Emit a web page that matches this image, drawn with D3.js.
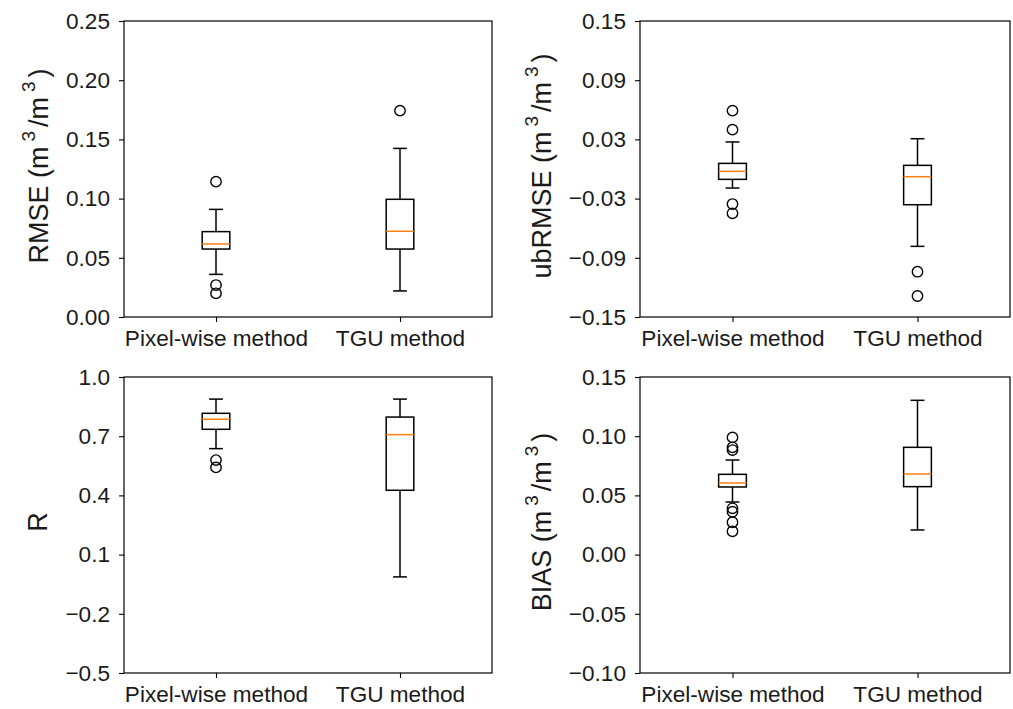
<!DOCTYPE html>
<html>
<head>
<meta charset="utf-8">
<script src="https://cdn.jsdelivr.net/npm/d3@7"></script>
<style>
  html, body { margin: 0; padding: 0; background: #fff; }
  svg { display: block; }
  text { font-family: "Liberation Sans", Arial, sans-serif; fill: #1a1a1a; }
</style>
</head>
<body>
<svg id="chart" width="1013" height="709"></svg>
<script>
// Methods compared in every panel
const methods = ["Pixel-wise method", "TGU method"];

// Box statistics per method: [lower whisker, Q1, median, Q3, upper whisker]
const rmseBoxes = [[0.036, 0.0574, 0.0617, 0.0721, 0.0909], [0.022, 0.0574, 0.0724, 0.0994, 0.1424]];
const rmseOutliers = [[0.1143, 0.027, 0.020], [0.1743]];

const ubrmseBoxes = [[-0.0193, -0.0105, -0.0024, 0.0057, 0.0274], [-0.0784, -0.0362, -0.0078, 0.0037, 0.0307]];
const ubrmseOutliers = [[0.0591, 0.0399, -0.0355, -0.0449], [-0.1041, -0.1287]];

const rBoxes = [[0.637, 0.735, 0.786, 0.816, 0.888], [-0.013, 0.426, 0.708, 0.797, 0.888]];
const rOutliers = [[0.579, 0.542], []];

const biasBoxes = [[0.0444, 0.0571, 0.0605, 0.0678, 0.0799], [0.0208, 0.0574, 0.0681, 0.0906, 0.1303]];
const biasOutliers = [[0.099, 0.0906, 0.0883, 0.0391, 0.0362, 0.0273, 0.0197], []];

// Y tick values for each panel
const rmseTicks = [0.00, 0.05, 0.10, 0.15, 0.20, 0.25];
const ubrmseTicks = [-0.15, -0.09, -0.03, 0.03, 0.09, 0.15];
const rTicks = [-0.5, -0.2, 0.1, 0.4, 0.7, 1.0];
const biasTicks = [-0.10, -0.05, 0.00, 0.05, 0.10, 0.15];

const svg = d3.select("#chart");

const panels = [
  { boxes: rmseBoxes, outliers: rmseOutliers, ticks: rmseTicks, fmt: ".2f",
    label: "RMSE", unit: true, x0: 124, x1: 492, y0: 21, y1: 317 },
  { boxes: ubrmseBoxes, outliers: ubrmseOutliers, ticks: ubrmseTicks, fmt: ".2f",
    label: "ubRMSE", unit: true, x0: 640, x1: 1010, y0: 21, y1: 317 },
  { boxes: rBoxes, outliers: rOutliers, ticks: rTicks, fmt: ".1f",
    label: "R", unit: false, x0: 124, x1: 492, y0: 377, y1: 673 },
  { boxes: biasBoxes, outliers: biasOutliers, ticks: biasTicks, fmt: ".2f",
    label: "BIAS", unit: true, x0: 640, x1: 1010, y0: 377, y1: 673 }
];

const ink = "#000";
const medianColor = "#ff7f0e";
const fontSize = 22.6;
const labelSize = 27;

panels.forEach(p => {
  const g = svg.append("g");
  const x = d3.scaleLinear().domain([0.5, 2.5]).range([p.x0, p.x1]);
  const y = d3.scaleLinear().domain([p.ticks[0], p.ticks[p.ticks.length - 1]]).range([p.y1, p.y0]);
  const boxW = x(1.15) - x(1);
  const capW = boxW / 2;
  const fmt = d3.format(p.fmt);

  // boxes, whiskers, medians and fliers
  p.boxes.forEach((b, i) => {
    const cx = x(i + 1);
    const [lo, q1, med, q3, hi] = b;
    const bg = g.append("g").attr("fill", "none").attr("stroke", ink).attr("stroke-width", 1.5);
    bg.append("line").attr("x1", cx).attr("x2", cx).attr("y1", y(q1)).attr("y2", y(lo));
    bg.append("line").attr("x1", cx).attr("x2", cx).attr("y1", y(q3)).attr("y2", y(hi));
    bg.append("line").attr("x1", cx - capW / 2).attr("x2", cx + capW / 2).attr("y1", y(lo)).attr("y2", y(lo));
    bg.append("line").attr("x1", cx - capW / 2).attr("x2", cx + capW / 2).attr("y1", y(hi)).attr("y2", y(hi));
    bg.append("rect").attr("x", cx - boxW / 2).attr("width", boxW)
      .attr("y", y(q3)).attr("height", y(q1) - y(q3));
    g.append("line").attr("x1", cx - boxW / 2).attr("x2", cx + boxW / 2)
      .attr("y1", y(med)).attr("y2", y(med))
      .attr("stroke", medianColor).attr("stroke-width", 1.5);
    g.selectAll(null).data(p.outliers[i]).enter().append("circle")
      .attr("cx", cx).attr("cy", d => y(d)).attr("r", 5.2)
      .attr("fill", "none").attr("stroke", ink).attr("stroke-width", 1.4);
  });

  // frame
  g.append("rect").attr("x", p.x0).attr("y", p.y0)
    .attr("width", p.x1 - p.x0).attr("height", p.y1 - p.y0)
    .attr("fill", "none").attr("stroke", ink).attr("stroke-width", 1.2);

  // y axis
  const yAxis = d3.axisLeft(y).tickValues(p.ticks).tickSize(5).tickPadding(9)
    .tickFormat(d => fmt(d).replace("-", "\u2212"));
  const ya = g.append("g").attr("transform", `translate(${p.x0},0)`).call(yAxis);
  ya.select(".domain").remove();
  ya.selectAll("line").attr("stroke", ink).attr("stroke-width", 1.1);
  ya.selectAll("text").attr("font-size", fontSize).attr("fill", "#1a1a1a")
    .attr("font-family", "Liberation Sans, Arial, sans-serif");

  // x axis
  const xAxis = d3.axisBottom(x).tickValues([1, 2]).tickSize(5).tickPadding(8)
    .tickFormat((d, i) => methods[i]);
  const xa = g.append("g").attr("transform", `translate(0,${p.y1})`).call(xAxis);
  xa.select(".domain").remove();
  xa.selectAll("line").attr("stroke", ink).attr("stroke-width", 1.1);
  xa.selectAll("text").attr("font-size", fontSize).attr("fill", "#1a1a1a")
    .attr("font-family", "Liberation Sans, Arial, sans-serif");

  // y label, placed just left of the widest tick label
  let maxW = 0;
  ya.selectAll("text").each(function () { maxW = Math.max(maxW, this.getComputedTextLength()); });
  const lx = p.x0 - 5 - 9 - maxW - 18;
  const cy = (p.y0 + p.y1) / 2 - 3;
  const t = g.append("text")
    .attr("transform", `translate(${lx},${cy}) rotate(-90)`)
    .attr("text-anchor", "middle")
    .attr("font-size", labelSize);
  t.append("tspan").text(p.label + (p.unit ? " (m" : ""));
  if (p.unit) {
    t.append("tspan").attr("dx", 5).attr("dy", -13).attr("font-size", 19).text("3");
    t.append("tspan").attr("dx", 4).attr("dy", 13).text("/m");
    t.append("tspan").attr("dx", 5).attr("dy", -13).attr("font-size", 19).text("3");
    t.append("tspan").attr("dx", 4).attr("dy", 13).text(")");
  }
});
</script>
</body>
</html>
